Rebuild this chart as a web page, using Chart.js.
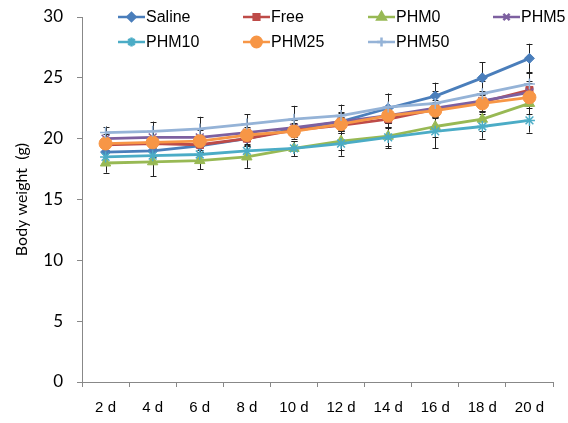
<!DOCTYPE html>
<html><head><meta charset="utf-8">
<script src="https://cdn.jsdelivr.net/npm/chart.js@4"></script>
<style>html,body{margin:0;padding:0;background:#fff}#wrap{width:568px;height:423px;position:relative}</style>
</head><body><div id="wrap"><canvas id="c" width="568" height="423"></canvas></div>
<script>
const categories = ["2 d","4 d","6 d","8 d","10 d","12 d","14 d","16 d","18 d","20 d"];
const seriesNames = ["Saline","Free","PHM0","PHM5","PHM10","PHM25","PHM50"];
const saline = [18.9, 19.0, 19.4, 20.0, 20.8, 21.4, 22.5, 23.5, 25.0, 26.6];
const free   = [19.5, 19.6, 19.5, 20.0, 20.7, 21.1, 21.6, 22.4, 23.0, 24.0];
const phm0   = [18.0, 18.1, 18.2, 18.5, 19.2, 19.8, 20.2, 21.0, 21.6, 22.9];
const phm5   = [20.0, 20.1, 20.1, 20.5, 20.9, 21.4, 21.9, 22.5, 23.1, 23.8];
const phm10  = [18.5, 18.6, 18.7, 19.0, 19.2, 19.6, 20.1, 20.6, 21.0, 21.5];
const phm25  = [19.6, 19.7, 19.8, 20.3, 20.6, 21.2, 21.9, 22.3, 22.9, 23.4];
const phm50  = [20.5, 20.6, 20.8, 21.2, 21.6, 21.9, 22.6, 22.9, 23.7, 24.5];
const salineErr = [0.4, 0.5, 0.5, 0.6, 0.7, 0.8, 1.2, 1.1, 1.3, 1.2];
const freeErr   = [0.4, 0.4, 0.4, 0.5, 0.6, 0.6, 0.7, 0.6, 0.7, 0.7];
const phm0Err   = [0.8, 1.2, 0.7, 0.9, 0.6, 0.7, 0.8, 0.9, 1.0, 0.9];
const phm5Err   = [0.4, 0.5, 0.6, 0.5, 0.6, 0.7, 0.6, 0.7, 0.8, 0.8];
const phm10Err  = [0.5, 0.5, 0.5, 0.6, 0.6, 1.0, 0.9, 1.4, 1.0, 1.0];
const phm25Err  = [0.4, 0.4, 0.5, 0.5, 0.6, 0.6, 0.6, 0.6, 0.7, 0.7];
const phm50Err  = [0.5, 0.8, 1.0, 0.8, 1.1, 0.9, 1.1, 1.0, 1.0, 1.0];
const yTicks = [0, 5, 10, 15, 20, 25, 30];

const values = [saline, free, phm0, phm5, phm10, phm25, phm50];
const errors = [salineErr, freeErr, phm0Err, phm5Err, phm10Err, phm25Err, phm50Err];
const colors = ["#4A7EBB","#BE4B48","#98B954","#7D60A0","#4BACC6","#F79646","#95B3D7"];
const styles = ["rectRot","rect","triangle","crossRot","star","circle","cross"];
const radii  = [5, 5, 6, 5.5, 5.5, 6.5, 5.5];

const datasets = seriesNames.map((n, i) => ({
  label: n, data: values[i], errors: errors[i],
  borderColor: colors[i], backgroundColor: colors[i],
  borderWidth: 2.8, pointStyle: styles[i], pointRadius: radii[i],
  pointBorderWidth: (styles[i]==="crossRot"||styles[i]==="star"||styles[i]==="cross") ? 1.5 : 1,
  pointBorderColor: colors[i], pointBackgroundColor: colors[i],
  tension: 0, order: seriesNames.length - i
}));

const errorBars = {
  id: 'errorBars',
  beforeDatasetsDraw(chart) {
    const ctx = chart.ctx, y = chart.scales.y;
    ctx.save();
    ctx.strokeStyle = '#222'; ctx.lineWidth = 1;
    chart.data.datasets.forEach((ds, di) => {
      const meta = chart.getDatasetMeta(di);
      meta.data.forEach((pt, j) => {
        const v = ds.data[j], e = ds.errors[j];
        const x = Math.round(pt.x) + 0.5;
        const yt = y.getPixelForValue(v + e), yb = y.getPixelForValue(v - e);
        ctx.beginPath();
        ctx.moveTo(x, yt); ctx.lineTo(x, yb);
        ctx.moveTo(x - 3, Math.round(yt)+0.5); ctx.lineTo(x + 3, Math.round(yt)+0.5);
        ctx.moveTo(x - 3, Math.round(yb)+0.5); ctx.lineTo(x + 3, Math.round(yb)+0.5);
        ctx.stroke();
      });
    });
    ctx.restore();
  }
};

const customLegend = {
  id: 'customLegend',
  afterDraw(chart) {
    const ctx = chart.ctx;
    ctx.save();
    const colX = [118, 243, 368, 493];
    const rowY = [17, 42];
    chart.data.datasets.forEach((ds, i) => {
      const col = i < 4 ? i : i - 4;
      const row = i < 4 ? 0 : 1;
      const x0 = colX[col], yc = rowY[row];
      ctx.strokeStyle = ds.borderColor; ctx.lineWidth = 2.5;
      ctx.beginPath(); ctx.moveTo(x0, yc); ctx.lineTo(x0 + 27, yc); ctx.stroke();
      ctx.fillStyle = ds.backgroundColor;
      Chart.helpers.drawPoint(ctx, {
        pointStyle: ds.pointStyle, radius: ds.pointRadius * 0.8, rotation: 0,
        borderWidth: ds.pointBorderWidth
      }, x0 + 13.5, yc);
      ctx.fillStyle = '#000';
      ctx.font = '16px "Liberation Sans", Arial, sans-serif';
      ctx.textBaseline = 'middle'; ctx.textAlign = 'left';
      ctx.fillText(ds.label, x0 + 28, yc + 1);
    });
    ctx.restore();
  }
};

new Chart(document.getElementById('c'), {
  type: 'line',
  data: { labels: categories, datasets },
  plugins: [errorBars, customLegend],
  options: {
    responsive: false, animation: false,
    layout: { padding: { top: 17, right: 15, left: 0, bottom: 0 } },
    plugins: { legend: { display: false }, tooltip: { enabled: false } },
    elements: { line: { borderJoinStyle: 'round' } },
    scales: {
      x: {
        offset: true,
        grid: { display: true, offset: true, drawOnChartArea: false, drawTicks: true, tickLength: 5, color: '#888' },
        border: { display: true, color: '#888', width: 1 },
        ticks: { color: '#000', padding: 12, maxRotation: 0, autoSkip: false,
                 font: { family: '"Liberation Sans", Arial, sans-serif', size: 15 } },
        afterFit(s) { s.height = 41; s.paddingLeft = 0; s.paddingRight = 0; }
      },
      y: {
        min: 0, max: 30,
        afterBuildTicks(s) { s.ticks = yTicks.map(v => ({ value: v })); },
        grid: { display: true, drawOnChartArea: false, drawTicks: true, tickLength: 5, color: '#888' },
        border: { display: true, color: '#888', width: 1 },
        ticks: { color: '#000', padding: 14,
                 font: { family: 'Lato, "Open Sans", sans-serif', size: 17 } },
        title: { display: true, text: 'Body weight  (g)', color: '#000',
                 padding: { top: 12, bottom: 0 },
                 font: { family: 'Lato, "Open Sans", sans-serif', size: 16 } },
        afterFit(s) { s.width = 82; s.paddingTop = 0; s.paddingBottom = 0; }
      }
    }
  }
});
</script></body></html>
